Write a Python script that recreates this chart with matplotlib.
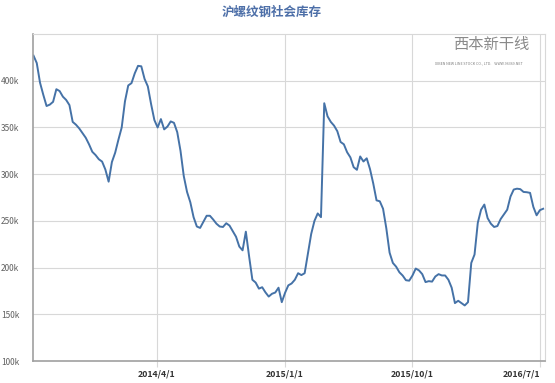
import matplotlib.pyplot as plt
import pandas as pd

plt.rcParams['font.family'] = ['Noto Sans CJK SC', 'DejaVu Sans']

title = '沪螺纹钢社会库存'
start_date = '2013-07-11'
# weekly stock, thousand tonnes
stock = [
    427, 419, 398, 385, 373, 374.5, 377.5, 391, 389, 383,
    379.5, 374, 356, 353, 349, 344, 339, 332, 324, 320.5,
    316, 313.5, 305, 292, 313, 323, 337, 350, 378, 395,
    397.5, 408, 416, 415.5, 402, 394, 375, 358, 350, 359,
    348, 351, 356.5, 355, 345, 325, 298, 281, 270, 254,
    244, 242.5, 249, 255.5, 255.5, 251.5, 247, 244, 243.5, 247.5,
    245, 239, 233, 222.5, 218.5, 238.5, 212, 187, 184, 177.5,
    179, 173.5, 169, 172, 173.3, 178.5, 163, 173, 181, 183,
    187, 194, 192, 194, 215, 236, 250, 258, 254, 376,
    362, 356, 352, 346, 334.5, 332, 323.5, 318, 307.5, 304.7,
    319, 313.6, 317, 305.5, 290, 272, 271, 263, 242, 216,
    205, 201, 195, 191.5, 186.5, 186, 191.5, 199, 197, 193,
    184.5, 185.5, 185, 190.5, 193, 191.6, 191.6, 187, 178.5, 162,
    164.5, 162, 159.5, 163, 205, 214, 248, 262, 267.5, 253,
    247, 243.5, 244.5, 252, 257, 262, 276, 283.6, 284.5, 284,
    281, 280.7, 280, 265, 256, 261.5, 263,
]
tick_dates = ['2014-04-01', '2015-01-01', '2015-10-01', '2016-07-01']
tick_labels = ['2014/4/1', '2015/1/1', '2015/10/1', '2016/7/1']
y_ticks = [100, 150, 200, 250, 300, 350, 400]

dates = pd.date_range(start_date, periods=len(stock), freq='7D')

fig = plt.figure(figsize=(5.55, 3.83), dpi=100)
ax = fig.add_axes([0.0595, 0.0574, 0.9225, 0.8536])

ax.plot(dates, stock, color='#4572a7', linewidth=1.4)

ax.set_xlim(pd.Timestamp('2013-07-10'), pd.Timestamp('2016-07-11'))
ax.set_ylim(100, 450)

ax.set_yticks(y_ticks)
ax.set_yticklabels([f'{v}k' for v in y_ticks])
ax.set_xticks(pd.to_datetime(tick_dates))
ax.set_xticklabels(tick_labels, fontweight='bold')
# last label is pulled inside the chart, as in the original
ax.get_xticklabels()[-1].set_horizontalalignment('right')

ax.grid(True, color='#d8d8d8', linewidth=0.8)
ax.set_axisbelow(True)
ax.tick_params(axis='y', length=0, labelsize=6, labelcolor='#606060', pad=10)
ax.tick_params(axis='x', length=4, color='#d8d8d8', labelsize=6.3,
               labelcolor='#333333', pad=2)
for side in ['top', 'right']:
    ax.spines[side].set_color('#d8d8d8')
ax.spines['left'].set_color('#a0a0a0')
ax.spines['left'].set_linewidth(1.2)
ax.spines['bottom'].set_color('#a0a0a0')
ax.spines['bottom'].set_linewidth(1.2)

fig.text(0.49, 0.968, title, ha='center', va='center', fontsize=9,
         fontweight='bold', color='#4d6fa8')

# watermark logo
fig.text(0.885, 0.885, '西本新干线', ha='center', va='center', fontsize=11,
         color='#8a8a8a', style='italic')
fig.text(0.862, 0.835, 'XIBEN NEW LINE STOCK CO., LTD.    WWW.96369.NET',
         ha='center', va='center', fontsize=2.6, color='#7a7a7a')

fig.savefig('out.png', dpi=100)
